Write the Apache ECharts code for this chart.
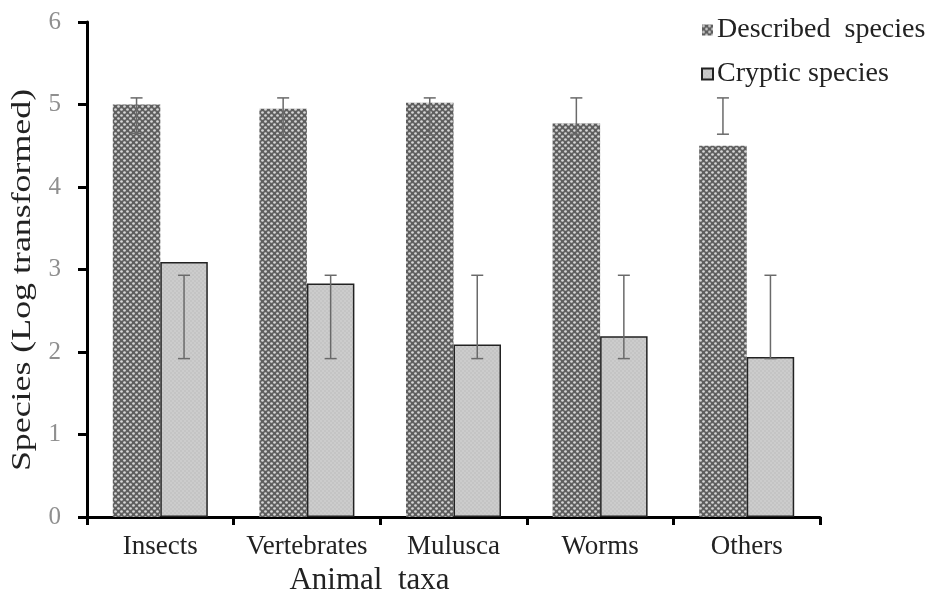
<!DOCTYPE html>
<html><head><meta charset="utf-8">
<script src="https://cdn.jsdelivr.net/npm/echarts@6/dist/echarts.min.js"></script>
<style>html,body{margin:0;padding:0;background:#fff}#c{width:927px;height:590px}</style>
</head><body><div id="c"></div>
<script>
const categories = ['Insects', 'Vertebrates', 'Mulusca', 'Worms', 'Others'];
const described = [5.0, 4.95, 5.02, 4.77, 4.5];
const describedLow = [4.65, 4.63, 4.63, 4.64, 4.64];
const describedHigh = [5.08, 5.08, 5.08, 5.08, 5.08];
const cryptic = [3.09, 2.83, 2.09, 2.19, 1.94];
const crypticLow = [1.92, 1.92, 1.92, 1.92, 1.92];
const crypticHigh = [2.93, 2.93, 2.93, 2.93, 2.93];
const yTicks = [0, 1, 2, 3, 4, 5, 6];
const yTitle = 'Species (Log transformed)';
const xTitle = 'Animal  taxa';
const legendNames = ['Described  species', 'Cryptic species'];

function makePattern(bg, dot, size, r) {
  const c = document.createElement('canvas');
  c.width = size; c.height = size;
  const g = c.getContext('2d');
  g.fillStyle = bg; g.fillRect(0, 0, size, size);
  g.fillStyle = dot;
  [[size/4, size/4], [3*size/4, 3*size/4]].forEach(p => {
    g.beginPath(); g.arc(p[0], p[1], r, 0, Math.PI * 2); g.fill();
  });
  return c;
}
const darkPat = { image: makePattern('#5e5e5e', '#d6d6d6', 6, 1.35), repeat: 'repeat' };
const lightPat = { image: makePattern('#c4c4c4', '#dcdcdc', 4, 0.7), repeat: 'repeat' };

const serif = 'Liberation Serif';
const chart = echarts.init(document.getElementById('c'));

function errSeries(low, high, sign) {
  return {
    type: 'custom',
    name: 'err' + sign,
    z: 10,
    silent: true,
    data: categories.map((c, i) => [i, low[i], high[i]]),
    renderItem: function (params, api) {
      const i = api.value(0);
      const bw = api.size([1, 0])[0];
      const p1 = api.coord([i, api.value(1)]);
      const p2 = api.coord([i, api.value(2)]);
      const x = p1[0] + sign * bw * 0.162;
      const hw = 6;
      const st = { stroke: '#6a6a6a', lineWidth: 1.5 };
      return {
        type: 'group',
        children: [
          { type: 'line', shape: { x1: x, y1: p1[1], x2: x, y2: p2[1] }, style: st },
          { type: 'line', shape: { x1: x - hw, y1: p1[1], x2: x + hw, y2: p1[1] }, style: st },
          { type: 'line', shape: { x1: x - hw, y1: p2[1], x2: x + hw, y2: p2[1] }, style: st }
        ]
      };
    }
  };
}

chart.setOption({
  animation: false,
  backgroundColor: '#fff',
  grid: { left: 87, right: 107, top: 22, bottom: 73, outerBoundsMode: 'none', containLabel: false },
  legend: {
    data: legendNames,
    orient: 'vertical',
    left: 696,
    top: 11,
    icon: 'rect',
    itemWidth: 11,
    itemHeight: 11,
    itemGap: 16,
    textStyle: { fontFamily: serif, fontSize: 28, color: '#222', padding: [0, 0, 0, -1] }
  },
  xAxis: {
    type: 'category',
    data: categories,
    name: xTitle,
    nameLocation: 'middle',
    nameGap: 47,
    nameTextStyle: { fontFamily: serif, fontSize: 31, color: '#222', padding: [0, 168, 0, 0] },
    axisLine: { lineStyle: { color: '#000', width: 3 } },
    axisTick: { show: true, interval: 0, length: 8, lineStyle: { color: '#000', width: 3 } },
    axisLabel: { interval: 0, hideOverlap: false, fontFamily: serif, fontSize: 27, color: '#222', margin: 16 }
  },
  yAxis: {
    type: 'value',
    min: 0, max: 6, interval: 1,
    axisLine: { show: true, lineStyle: { color: '#000', width: 3 } },
    axisTick: { show: true, length: 9, lineStyle: { color: '#000', width: 3 } },
    axisLabel: { fontFamily: serif, fontSize: 25, color: '#8f8f8f', margin: 26,
      formatter: function (v) { return yTicks.indexOf(v) >= 0 ? String(v) : ''; } },
    splitLine: { show: false }
  },
  graphic: [{
    type: 'text',
    x: 23, y: 280,
    rotation: Math.PI / 2,
    scaleX: 1.28,
    style: {
      text: yTitle, fontFamily: serif, fontSize: 28, fill: '#222',
      textAlign: 'center', textVerticalAlign: 'middle'
    }
  }],
  series: [
    {
      name: legendNames[0], type: 'bar', data: described,
      barWidth: '32.4%', barGap: '0%',
      itemStyle: { color: darkPat, borderWidth: 0 }
    },
    {
      name: legendNames[1], type: 'bar', data: cryptic,
      barWidth: '32.4%', barGap: '0%',
      itemStyle: { color: lightPat, borderColor: '#222', borderWidth: 1.5 }
    },
    errSeries(describedLow, describedHigh, -1),
    errSeries(crypticLow, crypticHigh, 1)
  ]
});
</script>
</body></html>
